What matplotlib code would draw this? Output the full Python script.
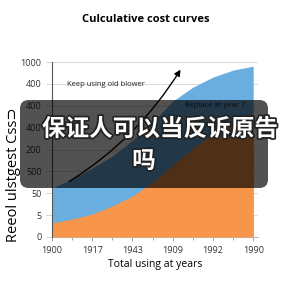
import matplotlib
matplotlib.use("Agg")
import matplotlib.pyplot as plt
import matplotlib.patheffects as pe
from matplotlib.patches import FancyBboxPatch

# values (tick positions are evenly spaced categories)
x_pos = [0, 0.5, 1, 1.5, 2, 2.5, 3, 3.5, 4, 4.5, 5]
keep_old = [2.24, 2.65, 3.15, 3.70, 4.43, 5.25, 6.21, 6.85, 7.31, 7.63, 7.81]
replace = [0.64, 0.82, 1.05, 1.42, 1.87, 2.51, 3.29, 4.06, 4.70, 5.25, 5.66]
x_labels = ["1900", "1917", "1943", "1909", "1992", "1990"]
y_labels = ["0", "5", "50", "500", "200", "400", "400", "400", "1000"]

plt.rcParams['font.family'] = ['Open Sans', 'DejaVu Sans']

fig = plt.figure(figsize=(2.88, 2.88), dpi=100)
ax = fig.add_axes([52/288, 51/288, 206/288, 175/288])

ax.fill_between(x_pos, 0, keep_old, color="#6aaee0", lw=0, zorder=2)
ax.fill_between(x_pos, 0, replace, color="#f7964a", lw=0, zorder=3)

ax.set_xlim(0, 5.12)
ax.set_ylim(0, 8)
ax.set_xticks(range(len(x_labels)))
ax.set_xticklabels(x_labels)
ax.set_xticks([0.5, 1.5, 2.5, 3.5, 4.5], minor=True)
ax.set_yticks(range(len(y_labels)))
ax.set_yticklabels(y_labels)
ax.tick_params(axis="both", labelsize=6.5, colors="#333333", length=3, width=0.6)
ax.tick_params(axis="x", which="minor", length=2, color="#999999")
ax.tick_params(axis="x", color="#999999")
ax.tick_params(axis="y", length=4, color="#cccccc")
ax.grid(axis="y", color="#dddddd", lw=0.8, zorder=0)
for s in ["top", "right"]:
    ax.spines[s].set_visible(False)
ax.spines["left"].set_color("#555555")
ax.spines["left"].set_linewidth(0.8)
ax.spines["left"].set_zorder(5)
ax.spines["bottom"].set_color("#bbbbbb")

ax.annotate("", xy=(3.23, 7.76), xytext=(0.37, 2.47),
            arrowprops=dict(arrowstyle="-|>", color="black", lw=1,
                            mutation_scale=9, connectionstyle="arc3,rad=0.12"),
            zorder=6)
ax.text(0.37, 6.99, "Keep using old blower", fontsize=5.5, color="#222222",
        va="center", zorder=6)
ax.text(4.8, 6.03, "Replace at year 7", fontsize=5.5, color="#222222",
        va="center", ha="right", zorder=6)

fig.text(146/288, 1 - 20/288, "Culculative cost curves", fontsize=8,
         fontweight="bold", ha="center", va="center")
ax.set_xlabel("Total using at years", fontsize=7.5, labelpad=3)
fig.text(14/288, 1 - 175/288, "Reeol ulstgest Css\u2283", fontsize=10.5,
         rotation=90, ha="center", va="center")

# dark caption overlay
box = FancyBboxPatch((20/288, 1 - 188/288), 248/288, 88/288,
                     boxstyle="round,pad=0,rounding_size=0.03",
                     transform=fig.transFigure, facecolor="black",
                     edgecolor="none", alpha=0.68, zorder=10)
fig.patches.append(box)
stroke = [pe.withStroke(linewidth=2.5, foreground="#222222")]
fig.text(160/288, 1 - 129/288, "保证人可以当反诉原告", fontsize=17,
         fontweight="bold", color="white", ha="center", va="center",
         family=["Noto Sans CJK SC", "DejaVu Sans"], path_effects=stroke,
         zorder=11)
fig.text(144/288, 1 - 161/288, "吗", fontsize=17,
         fontweight="bold", color="white", ha="center", va="center",
         family=["Noto Sans CJK SC", "DejaVu Sans"], path_effects=stroke,
         zorder=11)

fig.savefig("out.png", dpi=100)
